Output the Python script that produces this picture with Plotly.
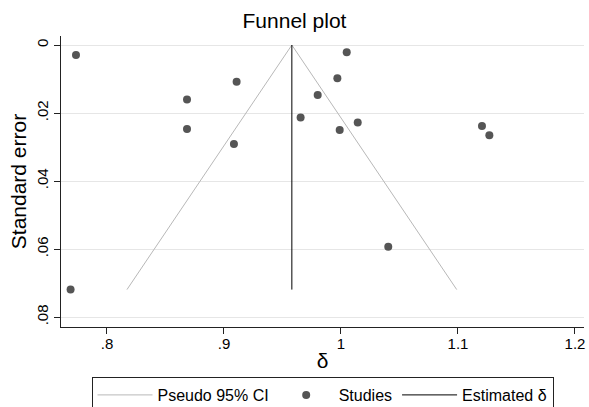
import plotly.graph_objects as go

# Study estimates (delta) and their standard errors
delta = [0.7735, 0.8684, 0.8684, 0.9108, 0.9085, 1.0049, 0.9969, 0.9801,
         0.9655, 0.9989, 1.0143, 1.1205, 1.1268, 1.0404, 0.7689]
se = [0.0029, 0.0160, 0.0247, 0.0108, 0.0291, 0.0021, 0.0098, 0.0147,
      0.0213, 0.0250, 0.0228, 0.0238, 0.0265, 0.0593, 0.0719]

# Pooled estimate and the funnel depth
estimate = 0.958
se_max = 0.0719
z = 1.96

x_ticks = [0.8, 0.9, 1.0, 1.1, 1.2]
x_labels = [".8", ".9", "1", "1.1", "1.2"]
y_ticks = [0, 0.02, 0.04, 0.06, 0.08]
y_labels = ["0", ".02", ".04", ".06", ".08"]

font = "Liberation Sans, Arial, Helvetica, sans-serif"
W, H = 589, 407

fig = go.Figure()

fig.add_trace(go.Scatter(
    x=[estimate - z * se_max, estimate, estimate + z * se_max],
    y=[se_max, 0, se_max],
    mode="lines", line=dict(color="#b8b8b8", width=1),
    name="Pseudo 95% CI"))

fig.add_trace(go.Scatter(
    x=delta, y=se, mode="markers",
    marker=dict(color="#555555", size=8),
    name="Studies"))

fig.add_trace(go.Scatter(
    x=[estimate, estimate], y=[0, se_max],
    mode="lines", line=dict(color="#000000", width=1),
    name="Estimated δ"))

fig.update_layout(
    width=W, height=H,
    margin=dict(l=61, r=5, t=36, b=80, autoexpand=False),
    paper_bgcolor="white", plot_bgcolor="white",
    font=dict(family=font, color="#000000", size=15),
    title=dict(text="Funnel plot", x=0.5, xanchor="center",
               y=1 - 21 / H, yanchor="middle",
               font=dict(size=21, family=font)),
    xaxis=dict(range=[0.7607, 1.2077], tickvals=x_ticks, ticktext=x_labels,
               showgrid=False, zeroline=False,
               showline=True, linecolor="#222222", linewidth=1,
               ticks="outside", ticklen=6, tickcolor="#222222",
               tickfont=dict(size=15), ticklabelstandoff=-3,
               title=dict(text="δ", font=dict(size=21), standoff=2)),
    yaxis=dict(range=[0.0829, -0.00265], tickvals=y_ticks, ticktext=y_labels,
               showgrid=True, gridcolor="#e6e6e6", gridwidth=1, zeroline=False,
               showline=True, linecolor="#222222", linewidth=1,
               ticks="outside", ticklen=6, tickcolor="#222222",
               tickangle=-90, tickfont=dict(size=15),
               title=dict(text="Standard error", font=dict(size=21), standoff=1)),
    legend=dict(orientation="h", xref="container", yref="container",
                x=322.5 / W, xanchor="center", y=1 - 377 / H, yanchor="top",
                bordercolor="#222222", borderwidth=1,
                bgcolor="white", font=dict(size=16), itemwidth=55,
                tracegroupgap=0),
)

fig.write_html("out.html")
